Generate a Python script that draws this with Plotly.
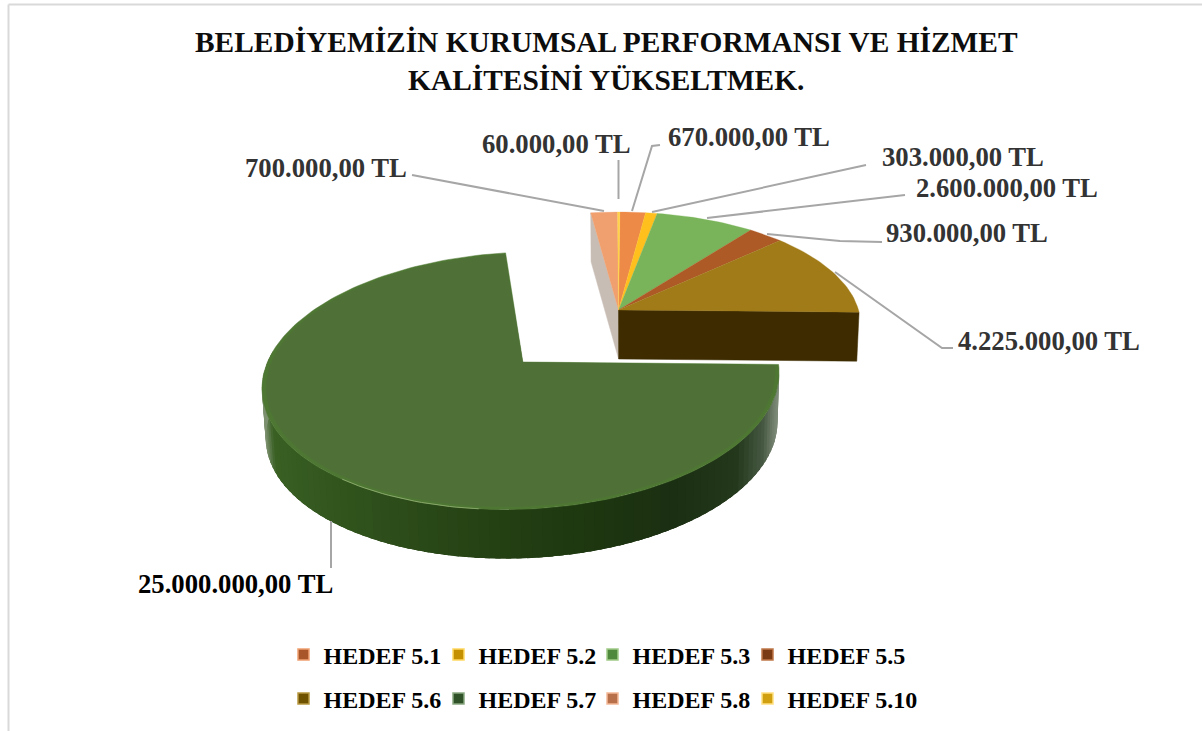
import math
import plotly.graph_objects as go

# ---- data ----
categories = ["HEDEF 5.1", "HEDEF 5.2", "HEDEF 5.3", "HEDEF 5.5",
              "HEDEF 5.6", "HEDEF 5.7", "HEDEF 5.8", "HEDEF 5.10"]
values = [670000, 303000, 2600000, 930000, 4225000, 25000000, 700000, 60000]
title_lines = ["BELEDİYEMİZİN KURUMSAL PERFORMANSI VE HİZMET", "KALİTESİNİ YÜKSELTMEK."]

# ---- styles ----
top_colors = ["#EE8A48", "#FFC01E", "#7AB45A", "#AE5A26", "#A07B18", "#4F7138", "#F0A06E", "#FFD24A"]
marker_colors = ["#A9562A", "#C49000", "#4F8A3C", "#7A3A14", "#6E5200", "#2F5228", "#B8704A", "#D0A010"]
marker_edges = ["#F0A070", "#FFD860", "#A0CC88", "#C07848", "#B89840", "#8AA880", "#F4B898", "#FFE080"]
SERIF = "Liberation Serif"
LEADER = "#A6A6A6"
# label text position (x centre, y centre) and leader polyline, in page pixels
label_pos = [(749, 137), (963, 157), (1007, 188), (967, 233), (1049, 341), (235, 584), (326, 168), (556, 144)]
leaders = [
    [(660, 145), (652, 146), (632, 211)],
    [(866, 165), (652, 212)],
    [(905, 195), (707, 218)],
    [(882, 242), (840, 241), (767, 234)],
    [(953, 348), (942, 348), (835, 272)],
    [(331, 568), (331, 521)],
    [(412, 175), (604, 211)],
    [(618.5, 160), (618.5, 199)],
]
# legend text start (x) and row centre (y), in page pixels
legend_x = [323, 478, 632, 787]
legend_y = [655, 699]

# ---- projection of the tilted pie onto the page ----
R = 240.0
H0, Y0, VX, X0, P = -503.0, 310.0, 630.0, 618.5, 0.137
EXPLODE = 0.56
DEPTH = 49.0


def project(X, Y, down=False):
    w = 1 + P * Y
    sx = VX + (X0 - VX + R * X) / w
    sy = H0 + (Y0 - H0) / w
    if down:
        sx = VX + (sx - VX) * 0.99
        sy += DEPTH
    return sx, sy


def rim(a0, a1, c, r=1.0, down=False, n=None):
    n = n or max(2, int(abs(a1 - a0) / 1.5) + 1)
    pts = []
    for i in range(n + 1):
        t = math.radians(a0 + (a1 - a0) * i / n)
        pts.append(project(c[0] + r * math.sin(t), c[1] + r * math.cos(t), down))
    return pts


total = sum(values)
angles = []
run = 0.0
for v in values:
    angles.append((run, run + v / total * 360))
    run += v / total * 360

big = categories.index("HEDEF 5.7")
mid = math.radians(sum(angles[big]) / 2)
big_c = (EXPLODE * math.sin(mid), EXPLODE * math.cos(mid) - 0.02)
grp_c = (0.0, 0.0)

fig = go.Figure()


def poly(pts, color, width=0.5, line=None):
    fig.add_trace(go.Scatter(
        x=[p[0] for p in pts] + [pts[0][0]], y=[p[1] for p in pts] + [pts[0][1]],
        mode="lines", fill="toself", fillcolor=color,
        line=dict(color=line or color, width=width), showlegend=False, hoverinfo="skip"))


# cut faces of the small-slice group
a_start = angles[big][1]
a_end = angles[big][0]
p0 = project(*grp_c)
p0d = project(*grp_c, down=True)
edge = project(math.sin(math.radians(a_start)), math.cos(math.radians(a_start)))
edged = project(math.sin(math.radians(a_start)), math.cos(math.radians(a_start)), down=True)
poly([edge, p0, p0d, edged], "#C8BDB5")
edge2 = project(math.sin(math.radians(a_end)), math.cos(math.radians(a_end)))
edge2d = project(math.sin(math.radians(a_end)), math.cos(math.radians(a_end)), down=True)
poly([p0, edge2, edge2d, p0d], "#3E2C00")

# top faces of the small slices
for i, (a0, a1) in enumerate(angles):
    if i == big:
        continue
    poly([p0] + rim(a0, a1, grp_c), top_colors[i], width=0.3)

# side of the large slice, shaded along the page x
stops = [(264, (125, 145, 112)), (274, (58, 96, 36)), (330, (50, 86, 30)), (450, (40, 70, 22)),
         (580, (30, 56, 16)), (680, (27, 47, 18)), (740, (36, 56, 28)), (765, (70, 88, 66)), (778, (125, 138, 120))]


def shade(x):
    for (x0, c0), (x1, c1) in zip(stops, stops[1:]):
        if x <= x1:
            t = max(0, (x - x0) / (x1 - x0))
            return "rgb(%d,%d,%d)" % tuple(round(a + (b - a) * t) for a, b in zip(c0, c1))
    return "rgb(%d,%d,%d)" % stops[-1][1]


b0, b1 = angles[big]
side_to = 275
step = (side_to - b0) / 90
for i in range(90):
    a = b0 + i * step
    a2 = min(a + 2.5 * step, side_to)
    up = rim(a, a2, big_c, n=2)
    dn = rim(a2, a, big_c, down=True, n=2)
    poly(up + dn, shade(up[0][0]), width=0)

# top face of the large slice, with a slightly brighter rim band
pc = project(*big_c)
poly([pc] + rim(b0, b1, big_c), "#4E7733")
inner = [pc] + rim(b0 + 0.4, b1 - 0.2, big_c, r=0.985)
poly(inner, top_colors[big], width=0)
hl = rim(215, 185, big_c, r=0.999)
fig.add_trace(go.Scatter(x=[p[0] for p in hl], y=[p[1] for p in hl], mode="lines",
                         line=dict(color="#86A668", width=1), showlegend=False, hoverinfo="skip"))

# leader lines
for pts in leaders:
    fig.add_trace(go.Scatter(x=[p[0] for p in pts], y=[p[1] for p in pts], mode="lines",
                             line=dict(color=LEADER, width=2), showlegend=False, hoverinfo="skip"))


def fmt(v):
    return f"{v:,.2f}".replace(",", "§").replace(".", ",").replace("§", ".") + " TL"


annotations = [dict(x=label_pos[i][0], y=label_pos[i][1], xref="x", yref="y", text=f"<b>{fmt(values[i])}</b>",
                    showarrow=False, xanchor="center", yanchor="middle",
                    font=dict(family=SERIF, size=26.7, color="#333333"))
               for i in range(len(values))]
annotations[5]["font"] = dict(family=SERIF, size=26.7, color="#000000")
annotations.append(dict(x=606, y=61, xref="x", yref="y", text="<br>".join(f"<b>{t}</b>" for t in title_lines),
                        showarrow=False, xanchor="center", yanchor="middle", align="center",
                        font=dict(family=SERIF, size=29.4, color="#0D0D0D")))

# legend entries: one single-entry legend per item, on a 4 x 2 grid
legends = {}
for i, name in enumerate(categories):
    key = "legend" if i == 0 else f"legend{i + 1}"
    fig.add_trace(go.Scatter(x=[None], y=[None], mode="markers", name=f"<b>{name}</b>",
                             legend=key,
                             marker=dict(symbol="square", size=11, color=marker_colors[i],
                                         line=dict(color=marker_edges[i], width=1.5))))
    legends[key] = dict(orientation="h", xanchor="left", yanchor="middle",
                        font=dict(family=SERIF, size=24, color="#000000"),
                        itemwidth=30, bgcolor="rgba(0,0,0,0)",
                        x=(legend_x[i % 4] - 39.5) / 1202, y=1 - legend_y[i // 4] / 731)

frame = [dict(type="line", xref="x", yref="y", x0=8.5, x1=8.5, y0=4.5, y1=731, line=dict(color="#D9D9D9", width=2)),
         dict(type="line", xref="x", yref="y", x0=8.5, x1=1202, y0=4.5, y1=4.5, line=dict(color="#D9D9D9", width=2))]

fig.update_layout(
    width=1202, height=731, margin=dict(l=0, r=0, t=0, b=0),
    paper_bgcolor="white", plot_bgcolor="white", showlegend=True,
    xaxis=dict(range=[0, 1202], visible=False, fixedrange=True),
    yaxis=dict(range=[731, 0], visible=False, fixedrange=True),
    annotations=annotations, shapes=frame,
    **legends,
)
fig.write_html("out.html", config={"displayModeBar": False},
               post_script="document.body.style.margin='0';document.documentElement.style.overflow='hidden';")
